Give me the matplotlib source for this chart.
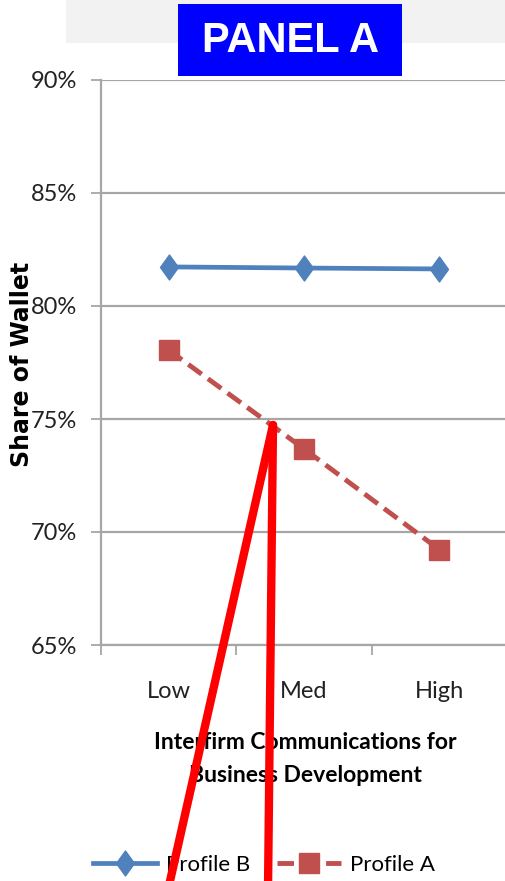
import numpy as np
import matplotlib
matplotlib.use('Agg')
import matplotlib.pyplot as plt
from matplotlib.path import Path
from matplotlib.lines import Line2D
from matplotlib.patches import Rectangle

categories = ['Low', 'Med', 'High']
profile_b = [81.73, 81.68, 81.64]
profile_a = [78.05, 73.68, 69.22]
y_ticks = [65, 70, 75, 80, 85, 90]

body_font = ['Lato', 'DejaVu Sans']
blue = '#4f81bd'
red = '#c0504d'
grid_gray = '#a6a6a6'

fig = plt.figure(figsize=(5.06, 8.81), dpi=100)

# grey header strip and the blue panel badge
fig.add_artist(Rectangle((66 / 506, 1 - 43 / 881), 440 / 506, 43 / 881,
                         transform=fig.transFigure, facecolor='#f2f2f2',
                         edgecolor='none', zorder=0))
fig.add_artist(Rectangle((178 / 506, 1 - 76 / 881), 224 / 506, 72 / 881,
                         transform=fig.transFigure, facecolor='#0000ff',
                         edgecolor='none', zorder=1))
fig.text(290 / 506, 1 - 41 / 881, 'PANEL A', color='white', fontsize=30,
         fontweight='bold', family='Liberation Sans', ha='center', va='center',
         zorder=2)

ax = fig.add_axes([101 / 506, 1 - 645 / 881, 406 / 506, 565 / 881])
x = np.arange(len(categories))

diamond = Path([(0, 1), (0.72, 0), (0, -1), (-0.72, 0), (0, 1)],
               [Path.MOVETO, Path.LINETO, Path.LINETO, Path.LINETO, Path.CLOSEPOLY])

ax.plot(x, profile_b, color=blue, lw=3.4, marker=diamond, ms=18,
        mec=blue, mfc=blue, label='Profile B', zorder=3)
ax.plot(x, profile_a, color=red, lw=3.5, ls=(0, (3.4, 1.6)), marker='s', ms=14,
        mec=red, mfc=red, label='Profile A', zorder=3)

ax.set_xlim(-0.5, 2.5)
ax.set_ylim(65, 90)
ax.set_yticks(y_ticks)
ax.set_yticklabels([f'{v}%' for v in y_ticks], family=body_font, fontsize=17,
                   color='#222222')
ax.set_xticks([-0.5, 0.5, 1.5, 2.5])
ax.set_xticklabels([])
ax.set_xticks(x, minor=True)
ax.set_xticklabels(categories, minor=True, family=body_font, fontsize=17,
                   color='#222222')
ax.tick_params(axis='x', which='minor', length=0, pad=26)
ax.tick_params(axis='x', which='major', length=7, width=1.3, color=grid_gray,
               direction='out')
ax.tick_params(axis='y', length=7, width=1.3, color=grid_gray, direction='out',
               pad=10)

ax.grid(axis='y', color=grid_gray, lw=1.6)
ax.set_axisbelow(True)
for side in ['top', 'right']:
    ax.spines[side].set_visible(False)
for side in ['left', 'bottom']:
    ax.spines[side].set_color(grid_gray)
    ax.spines[side].set_linewidth(1.6)

ax.set_ylabel('Share of Wallet', family='DejaVu Sans', fontweight='bold',
              fontsize=17)
ax.yaxis.set_label_coords(-0.165, 0.496)
fig.text(305 / 506, 1 - 759 / 881,
         'Interfirm Communications for\nBusiness Development',
         family=body_font, fontweight='bold', fontsize=16.5, ha='center',
         va='center', linespacing=1.75)

fig.legend(loc='center', bbox_to_anchor=(264 / 506, 1 - 865 / 881),
           ncol=2, frameon=False, handlelength=2.9, columnspacing=1.2,
           handletextpad=0.4, prop={'family': body_font, 'size': 16})

# red callout strokes from the dashed line
for x_end, y_end in [(168, 890), (268, 890)]:
    fig.add_artist(Line2D([273 / 506, x_end / 506],
                          [1 - 425 / 881, 1 - y_end / 881],
                          transform=fig.transFigure, color='#ff0000',
                          lw=6, solid_capstyle='round', zorder=10))

fig.savefig('out.png', dpi=100)
